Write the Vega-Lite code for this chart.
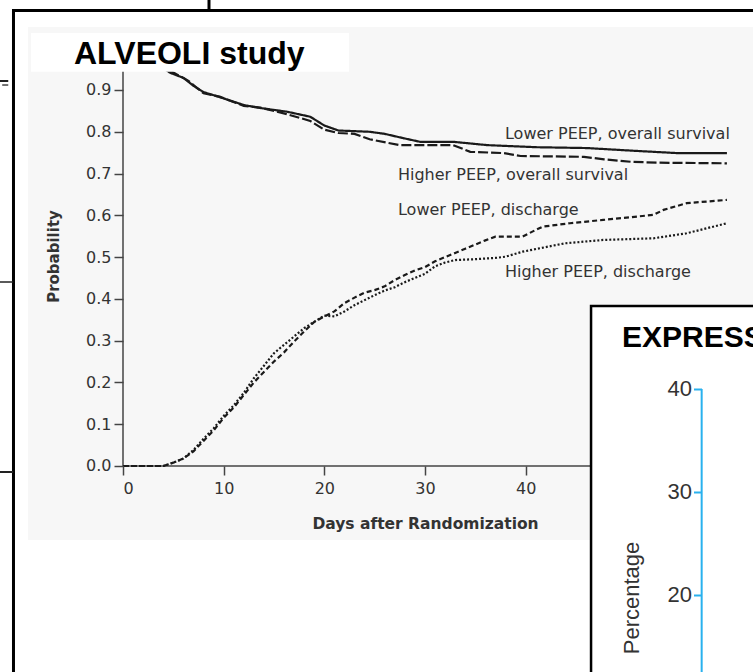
{
  "$schema": "https://vega.github.io/schema/vega-lite/v6.json",
  "width": 630,
  "height": 672,
  "autosize": {"type": "none"},
  "padding": {"left": 123, "top": 0, "right": 0, "bottom": 0},
  "background": "white",
  "config": {"view": {"stroke": null}, "font": "DejaVu Sans"},
  "data": {"values": [{"one": 1}]},
  "datasets": {
    "curves": [
      {"series": "Lower PEEP, overall survival", "day": 0, "p": 1.0},
      {"series": "Lower PEEP, overall survival", "day": 1, "p": 0.99},
      {"series": "Lower PEEP, overall survival", "day": 2, "p": 0.98},
      {"series": "Lower PEEP, overall survival", "day": 3, "p": 0.963},
      {"series": "Lower PEEP, overall survival", "day": 4, "p": 0.952},
      {"series": "Lower PEEP, overall survival", "day": 4.7, "p": 0.941},
      {"series": "Lower PEEP, overall survival", "day": 6, "p": 0.929},
      {"series": "Lower PEEP, overall survival", "day": 7, "p": 0.91},
      {"series": "Lower PEEP, overall survival", "day": 8, "p": 0.895},
      {"series": "Lower PEEP, overall survival", "day": 9.6, "p": 0.883},
      {"series": "Lower PEEP, overall survival", "day": 12, "p": 0.864},
      {"series": "Lower PEEP, overall survival", "day": 13.6, "p": 0.857},
      {"series": "Lower PEEP, overall survival", "day": 16.3, "p": 0.848},
      {"series": "Lower PEEP, overall survival", "day": 18.6, "p": 0.836},
      {"series": "Lower PEEP, overall survival", "day": 20, "p": 0.815},
      {"series": "Lower PEEP, overall survival", "day": 21.4, "p": 0.803},
      {"series": "Lower PEEP, overall survival", "day": 24.5, "p": 0.8},
      {"series": "Lower PEEP, overall survival", "day": 26, "p": 0.795},
      {"series": "Lower PEEP, overall survival", "day": 27.8, "p": 0.785},
      {"series": "Lower PEEP, overall survival", "day": 29.5, "p": 0.776},
      {"series": "Lower PEEP, overall survival", "day": 32.8, "p": 0.776},
      {"series": "Lower PEEP, overall survival", "day": 36.2, "p": 0.768},
      {"series": "Lower PEEP, overall survival", "day": 41.1, "p": 0.763},
      {"series": "Lower PEEP, overall survival", "day": 46.1, "p": 0.761},
      {"series": "Lower PEEP, overall survival", "day": 50.4, "p": 0.755},
      {"series": "Lower PEEP, overall survival", "day": 55, "p": 0.749},
      {"series": "Lower PEEP, overall survival", "day": 60, "p": 0.749},
      {"series": "Higher PEEP, overall survival", "day": 0, "p": 1.0},
      {"series": "Higher PEEP, overall survival", "day": 1, "p": 0.99},
      {"series": "Higher PEEP, overall survival", "day": 2, "p": 0.98},
      {"series": "Higher PEEP, overall survival", "day": 3, "p": 0.965},
      {"series": "Higher PEEP, overall survival", "day": 4, "p": 0.955},
      {"series": "Higher PEEP, overall survival", "day": 4.7, "p": 0.946},
      {"series": "Higher PEEP, overall survival", "day": 6.5, "p": 0.922},
      {"series": "Higher PEEP, overall survival", "day": 8, "p": 0.892},
      {"series": "Higher PEEP, overall survival", "day": 9.6, "p": 0.884},
      {"series": "Higher PEEP, overall survival", "day": 12, "p": 0.862},
      {"series": "Higher PEEP, overall survival", "day": 13.6, "p": 0.858},
      {"series": "Higher PEEP, overall survival", "day": 16.3, "p": 0.842},
      {"series": "Higher PEEP, overall survival", "day": 18.6, "p": 0.826},
      {"series": "Higher PEEP, overall survival", "day": 20, "p": 0.805},
      {"series": "Higher PEEP, overall survival", "day": 21.4, "p": 0.797},
      {"series": "Higher PEEP, overall survival", "day": 23, "p": 0.795},
      {"series": "Higher PEEP, overall survival", "day": 24.5, "p": 0.782},
      {"series": "Higher PEEP, overall survival", "day": 27.5, "p": 0.768},
      {"series": "Higher PEEP, overall survival", "day": 32.8, "p": 0.768},
      {"series": "Higher PEEP, overall survival", "day": 34.5, "p": 0.752},
      {"series": "Higher PEEP, overall survival", "day": 37.8, "p": 0.749},
      {"series": "Higher PEEP, overall survival", "day": 39.5, "p": 0.742},
      {"series": "Higher PEEP, overall survival", "day": 45.8, "p": 0.74},
      {"series": "Higher PEEP, overall survival", "day": 47.8, "p": 0.734},
      {"series": "Higher PEEP, overall survival", "day": 50.5, "p": 0.728},
      {"series": "Higher PEEP, overall survival", "day": 53.2, "p": 0.726},
      {"series": "Higher PEEP, overall survival", "day": 60, "p": 0.7245},
      {"series": "Lower PEEP, discharge", "day": 0, "p": 0},
      {"series": "Lower PEEP, discharge", "day": 4, "p": 0},
      {"series": "Lower PEEP, discharge", "day": 5, "p": 0.008},
      {"series": "Lower PEEP, discharge", "day": 6, "p": 0.018},
      {"series": "Lower PEEP, discharge", "day": 7, "p": 0.035},
      {"series": "Lower PEEP, discharge", "day": 8, "p": 0.06},
      {"series": "Lower PEEP, discharge", "day": 9, "p": 0.085},
      {"series": "Lower PEEP, discharge", "day": 10, "p": 0.115},
      {"series": "Lower PEEP, discharge", "day": 11, "p": 0.14},
      {"series": "Lower PEEP, discharge", "day": 12, "p": 0.17},
      {"series": "Lower PEEP, discharge", "day": 13, "p": 0.2},
      {"series": "Lower PEEP, discharge", "day": 14, "p": 0.225},
      {"series": "Lower PEEP, discharge", "day": 15, "p": 0.25},
      {"series": "Lower PEEP, discharge", "day": 16, "p": 0.272},
      {"series": "Lower PEEP, discharge", "day": 17, "p": 0.298},
      {"series": "Lower PEEP, discharge", "day": 18, "p": 0.322},
      {"series": "Lower PEEP, discharge", "day": 19, "p": 0.345},
      {"series": "Lower PEEP, discharge", "day": 20, "p": 0.358},
      {"series": "Lower PEEP, discharge", "day": 21, "p": 0.37},
      {"series": "Lower PEEP, discharge", "day": 22, "p": 0.39},
      {"series": "Lower PEEP, discharge", "day": 23, "p": 0.403},
      {"series": "Lower PEEP, discharge", "day": 24, "p": 0.415},
      {"series": "Lower PEEP, discharge", "day": 25, "p": 0.421},
      {"series": "Lower PEEP, discharge", "day": 26, "p": 0.43},
      {"series": "Lower PEEP, discharge", "day": 27, "p": 0.445},
      {"series": "Lower PEEP, discharge", "day": 28, "p": 0.457},
      {"series": "Lower PEEP, discharge", "day": 29, "p": 0.468},
      {"series": "Lower PEEP, discharge", "day": 30, "p": 0.476},
      {"series": "Lower PEEP, discharge", "day": 31, "p": 0.49},
      {"series": "Lower PEEP, discharge", "day": 32, "p": 0.5},
      {"series": "Lower PEEP, discharge", "day": 33, "p": 0.51},
      {"series": "Lower PEEP, discharge", "day": 34, "p": 0.52},
      {"series": "Lower PEEP, discharge", "day": 35, "p": 0.53},
      {"series": "Lower PEEP, discharge", "day": 36, "p": 0.54},
      {"series": "Lower PEEP, discharge", "day": 37, "p": 0.549},
      {"series": "Lower PEEP, discharge", "day": 39.7, "p": 0.549},
      {"series": "Lower PEEP, discharge", "day": 41, "p": 0.565},
      {"series": "Lower PEEP, discharge", "day": 41.7, "p": 0.573},
      {"series": "Lower PEEP, discharge", "day": 44.4, "p": 0.581},
      {"series": "Lower PEEP, discharge", "day": 47.7, "p": 0.589},
      {"series": "Lower PEEP, discharge", "day": 52.7, "p": 0.601},
      {"series": "Lower PEEP, discharge", "day": 53.7, "p": 0.613},
      {"series": "Lower PEEP, discharge", "day": 56, "p": 0.629},
      {"series": "Lower PEEP, discharge", "day": 60, "p": 0.637},
      {"series": "Higher PEEP, discharge", "day": 0, "p": 0},
      {"series": "Higher PEEP, discharge", "day": 4, "p": 0},
      {"series": "Higher PEEP, discharge", "day": 5, "p": 0.008},
      {"series": "Higher PEEP, discharge", "day": 6, "p": 0.018},
      {"series": "Higher PEEP, discharge", "day": 7, "p": 0.038},
      {"series": "Higher PEEP, discharge", "day": 8, "p": 0.065},
      {"series": "Higher PEEP, discharge", "day": 9, "p": 0.09},
      {"series": "Higher PEEP, discharge", "day": 10, "p": 0.12},
      {"series": "Higher PEEP, discharge", "day": 11, "p": 0.145},
      {"series": "Higher PEEP, discharge", "day": 12, "p": 0.175},
      {"series": "Higher PEEP, discharge", "day": 13, "p": 0.21},
      {"series": "Higher PEEP, discharge", "day": 14, "p": 0.24},
      {"series": "Higher PEEP, discharge", "day": 15, "p": 0.27},
      {"series": "Higher PEEP, discharge", "day": 16, "p": 0.29},
      {"series": "Higher PEEP, discharge", "day": 17, "p": 0.31},
      {"series": "Higher PEEP, discharge", "day": 18, "p": 0.33},
      {"series": "Higher PEEP, discharge", "day": 19, "p": 0.345},
      {"series": "Higher PEEP, discharge", "day": 20, "p": 0.36},
      {"series": "Higher PEEP, discharge", "day": 21, "p": 0.358},
      {"series": "Higher PEEP, discharge", "day": 22, "p": 0.37},
      {"series": "Higher PEEP, discharge", "day": 23, "p": 0.385},
      {"series": "Higher PEEP, discharge", "day": 24, "p": 0.397},
      {"series": "Higher PEEP, discharge", "day": 25, "p": 0.409},
      {"series": "Higher PEEP, discharge", "day": 26, "p": 0.42},
      {"series": "Higher PEEP, discharge", "day": 27, "p": 0.428},
      {"series": "Higher PEEP, discharge", "day": 28, "p": 0.44},
      {"series": "Higher PEEP, discharge", "day": 29, "p": 0.45},
      {"series": "Higher PEEP, discharge", "day": 30, "p": 0.46},
      {"series": "Higher PEEP, discharge", "day": 31, "p": 0.478},
      {"series": "Higher PEEP, discharge", "day": 32, "p": 0.487},
      {"series": "Higher PEEP, discharge", "day": 33, "p": 0.493},
      {"series": "Higher PEEP, discharge", "day": 35, "p": 0.495},
      {"series": "Higher PEEP, discharge", "day": 37, "p": 0.498},
      {"series": "Higher PEEP, discharge", "day": 38, "p": 0.501},
      {"series": "Higher PEEP, discharge", "day": 39.7, "p": 0.513},
      {"series": "Higher PEEP, discharge", "day": 43.9, "p": 0.533},
      {"series": "Higher PEEP, discharge", "day": 47.7, "p": 0.541},
      {"series": "Higher PEEP, discharge", "day": 52.7, "p": 0.545},
      {"series": "Higher PEEP, discharge", "day": 56, "p": 0.557},
      {"series": "Higher PEEP, discharge", "day": 60, "p": 0.581}
    ],
    "labels": [
      {"label": "Lower PEEP, overall survival", "day": 37.95, "p": 0.782},
      {"label": "Higher PEEP, overall survival", "day": 27.32, "p": 0.6845},
      {"label": "Lower PEEP, discharge", "day": 27.32, "p": 0.6008},
      {"label": "Higher PEEP, discharge", "day": 37.95, "p": 0.4531}
    ]
  },
  "layer": [
    {
      "mark": {"type": "rect", "fill": "white", "stroke": "black", "strokeWidth": 3, "clip": false},
      "encoding": {
        "x": {"datum": -10.88, "type": "quantitative", "scale": {"domain": [0, 62.59], "nice": false, "zero": false},
          "axis": {
            "orient": "bottom", "offset": -206, "values": [0, 10, 20, 30, 40],
            "domain": false, "grid": false, "zindex": 1,
            "tickColor": "#444", "tickWidth": 1.5, "tickSize": 9,
            "labelFont": "DejaVu Sans", "labelFontSize": 16, "labelColor": "#333", "labelPadding": 5,
            "title": "Days after Randomization", "titleFont": "DejaVu Sans", "titleFontSize": 15.5,
            "titleFontWeight": "bold", "titleColor": "#333",
            "titleX": 302, "titleY": 57, "titleAlign": "center", "titleBaseline": "middle"
          }
        },
        "x2": {"datum": 70},
        "y": {"datum": 1.0902, "type": "quantitative", "scale": {"domain": [-0.4931, 1.1154], "nice": false, "zero": false},
          "axis": {
            "orient": "left", "values": [0, 0.1, 0.2, 0.3, 0.4, 0.5, 0.6, 0.7, 0.8, 0.9], "format": ".1f",
            "domain": false, "grid": false, "zindex": 1,
            "tickColor": "#444", "tickWidth": 1.5, "tickSize": 9,
            "labelFont": "DejaVu Sans", "labelFontSize": 16, "labelColor": "#333", "labelPadding": 3,
            "title": "Probability", "titleFont": "DejaVu Sans", "titleFontSize": 15,
            "titleFontWeight": "bold", "titleColor": "#333", "titleAngle": 270,
            "titleX": -70, "titleY": 256, "titleAlign": "center", "titleBaseline": "middle"
          }
        },
        "y2": {"datum": -1.2}
      }
    },
    {
      "mark": {"type": "rect", "fill": "#f7f7f7", "clip": false},
      "encoding": {
        "x": {"datum": -9.44, "type": "quantitative"},
        "x2": {"datum": 70},
        "y": {"datum": 1.0508, "type": "quantitative", "axis": null, "scale": {"domain": [-0.4931, 1.1154], "nice": false, "zero": false}},
        "y2": {"datum": -0.1771}
      }
    },
    {
      "mark": {"type": "rule", "stroke": "black", "strokeWidth": 3, "clip": false},
      "encoding": {
        "x": {"datum": 8.544, "type": "quantitative"},
        "y": {"datum": 1.2, "type": "quantitative", "axis": null, "scale": {"domain": [-0.4931, 1.1154], "nice": false, "zero": false}},
        "y2": {"datum": 1.0902}
      }
    },
    {
      "mark": {"type": "rule", "stroke": "#222", "strokeWidth": 1.5, "clip": false},
      "encoding": {
        "x": {"datum": -12.4, "type": "quantitative"},
        "x2": {"datum": -10.9},
        "y": {"datum": 0.4404, "type": "quantitative", "axis": null, "scale": {"domain": [-0.4931, 1.1154], "nice": false, "zero": false}}
      }
    },
    {
      "mark": {"type": "rule", "stroke": "#222", "strokeWidth": 2, "clip": false},
      "encoding": {
        "x": {"datum": -12.4, "type": "quantitative"},
        "x2": {"datum": -10.9},
        "y": {"datum": -0.0144, "type": "quantitative", "axis": null, "scale": {"domain": [-0.4931, 1.1154], "nice": false, "zero": false}}
      }
    },
    {
      "mark": {"type": "rule", "stroke": "#222", "strokeWidth": 2, "clip": false},
      "encoding": {
        "x": {"datum": -12.4, "type": "quantitative"},
        "x2": {"datum": -11.4},
        "y": {"datum": 0.9215, "type": "quantitative", "axis": null, "scale": {"domain": [-0.4931, 1.1154], "nice": false, "zero": false}}
      }
    },
    {
      "mark": {"type": "rule", "stroke": "#444", "strokeWidth": 1.5, "clip": false},
      "encoding": {
        "x": {"datum": -12.0, "type": "quantitative"},
        "x2": {"datum": -11.4},
        "y": {"datum": 0.9119, "type": "quantitative", "axis": null, "scale": {"domain": [-0.4931, 1.1154], "nice": false, "zero": false}}
      }
    },
    {
      "mark": {"type": "rule", "stroke": "#444", "strokeWidth": 1.5, "clip": false},
      "encoding": {
        "x": {"datum": 0, "type": "quantitative"},
        "y": {"datum": 0, "type": "quantitative", "axis": null, "scale": {"domain": [-0.4931, 1.1154], "nice": false, "zero": false}},
        "y2": {"datum": 1.0}
      }
    },
    {
      "mark": {"type": "rule", "stroke": "#444", "strokeWidth": 1.5, "clip": false},
      "encoding": {
        "x": {"datum": 0, "type": "quantitative"},
        "x2": {"datum": 62.59},
        "y": {"datum": 0, "type": "quantitative", "axis": null, "scale": {"domain": [-0.4931, 1.1154], "nice": false, "zero": false}}
      }
    },
    {
      "data": {"name": "curves"},
      "mark": {"type": "line", "stroke": "#1a1a1a", "strokeWidth": 2.2, "clip": false},
      "encoding": {
        "x": {"field": "day", "type": "quantitative"},
        "y": {"field": "p", "type": "quantitative", "axis": null, "scale": {"domain": [-0.4931, 1.1154], "nice": false, "zero": false}},
        "detail": {"field": "series"},
        "strokeDash": {
          "field": "series", "type": "nominal", "legend": null,
          "scale": {
            "domain": ["Lower PEEP, overall survival", "Higher PEEP, overall survival", "Lower PEEP, discharge", "Higher PEEP, discharge"],
            "range": [[1, 0], [10, 3], [5, 3], [2, 2]]
          }
        }
      }
    },
    {
      "data": {"name": "labels"},
      "mark": {"type": "text", "align": "left", "baseline": "alphabetic", "font": "DejaVu Sans", "fontSize": 16, "fill": "#333", "clip": false},
      "encoding": {
        "x": {"field": "day", "type": "quantitative"},
        "y": {"field": "p", "type": "quantitative", "axis": null, "scale": {"domain": [-0.4931, 1.1154], "nice": false, "zero": false}},
        "text": {"field": "label"}
      }
    },
    {
      "mark": {"type": "rect", "fill": "white", "clip": false},
      "encoding": {
        "x": {"datum": -9.141, "type": "quantitative"},
        "x2": {"datum": 22.454},
        "y": {"datum": 1.0364, "type": "quantitative", "axis": null, "scale": {"domain": [-0.4931, 1.1154], "nice": false, "zero": false}},
        "y2": {"datum": 0.9435}
      }
    },
    {
      "mark": {"type": "text", "align": "left", "baseline": "alphabetic", "font": "Liberation Sans", "fontWeight": "bold", "fontSize": 32, "fill": "black", "clip": false},
      "encoding": {
        "x": {"datum": -4.868, "type": "quantitative"},
        "y": {"datum": 0.9615, "type": "quantitative", "axis": null, "scale": {"domain": [-0.4931, 1.1154], "nice": false, "zero": false}},
        "text": {"value": "ALVEOLI study"}
      }
    },
    {
      "mark": {"type": "rect", "fill": "white", "stroke": "black", "strokeWidth": 2.5, "clip": false},
      "encoding": {
        "x": {"datum": 46.5, "type": "quantitative"},
        "x2": {"datum": 70},
        "y": {
          "datum": 48.06, "type": "quantitative",
          "scale": {"domain": [12.52, 77.77], "nice": false, "zero": false},
          "axis": {
            "orient": "left", "offset": -578.5, "values": [20, 30, 40],
            "domain": false, "grid": false, "zindex": 2,
            "tickColor": "#29b1ee", "tickWidth": 2, "tickSize": 8,
            "labelFont": "Liberation Sans", "labelFontSize": 22, "labelColor": "#333", "labelPadding": 2,
            "title": "Percentage", "titleFont": "Liberation Sans", "titleFontSize": 22,
            "titleFontWeight": "normal", "titleColor": "#333", "titleAngle": 270,
            "titleX": -70.5, "titleY": 597.5, "titleAlign": "center", "titleBaseline": "middle"
          }
        },
        "y2": {"datum": 0}
      }
    },
    {
      "mark": {"type": "rule", "stroke": "#29b1ee", "strokeWidth": 2, "clip": false},
      "encoding": {
        "x": {"datum": 57.49, "type": "quantitative"},
        "y": {"datum": 40, "type": "quantitative", "axis": null, "scale": {"domain": [12.52, 77.77], "nice": false, "zero": false}},
        "y2": {"datum": 0}
      }
    },
    {
      "mark": {"type": "text", "align": "left", "baseline": "alphabetic", "font": "Liberation Sans", "fontWeight": "bold", "fontSize": 30, "fill": "black", "clip": false},
      "encoding": {
        "x": {"datum": 49.58, "type": "quantitative"},
        "y": {"datum": 44.11, "type": "quantitative", "axis": null, "scale": {"domain": [12.52, 77.77], "nice": false, "zero": false}},
        "text": {"value": "EXPRESS"}
      }
    }
  ],
  "resolve": {"scale": {"y": "independent"}, "axis": {"y": "independent"}}
}
